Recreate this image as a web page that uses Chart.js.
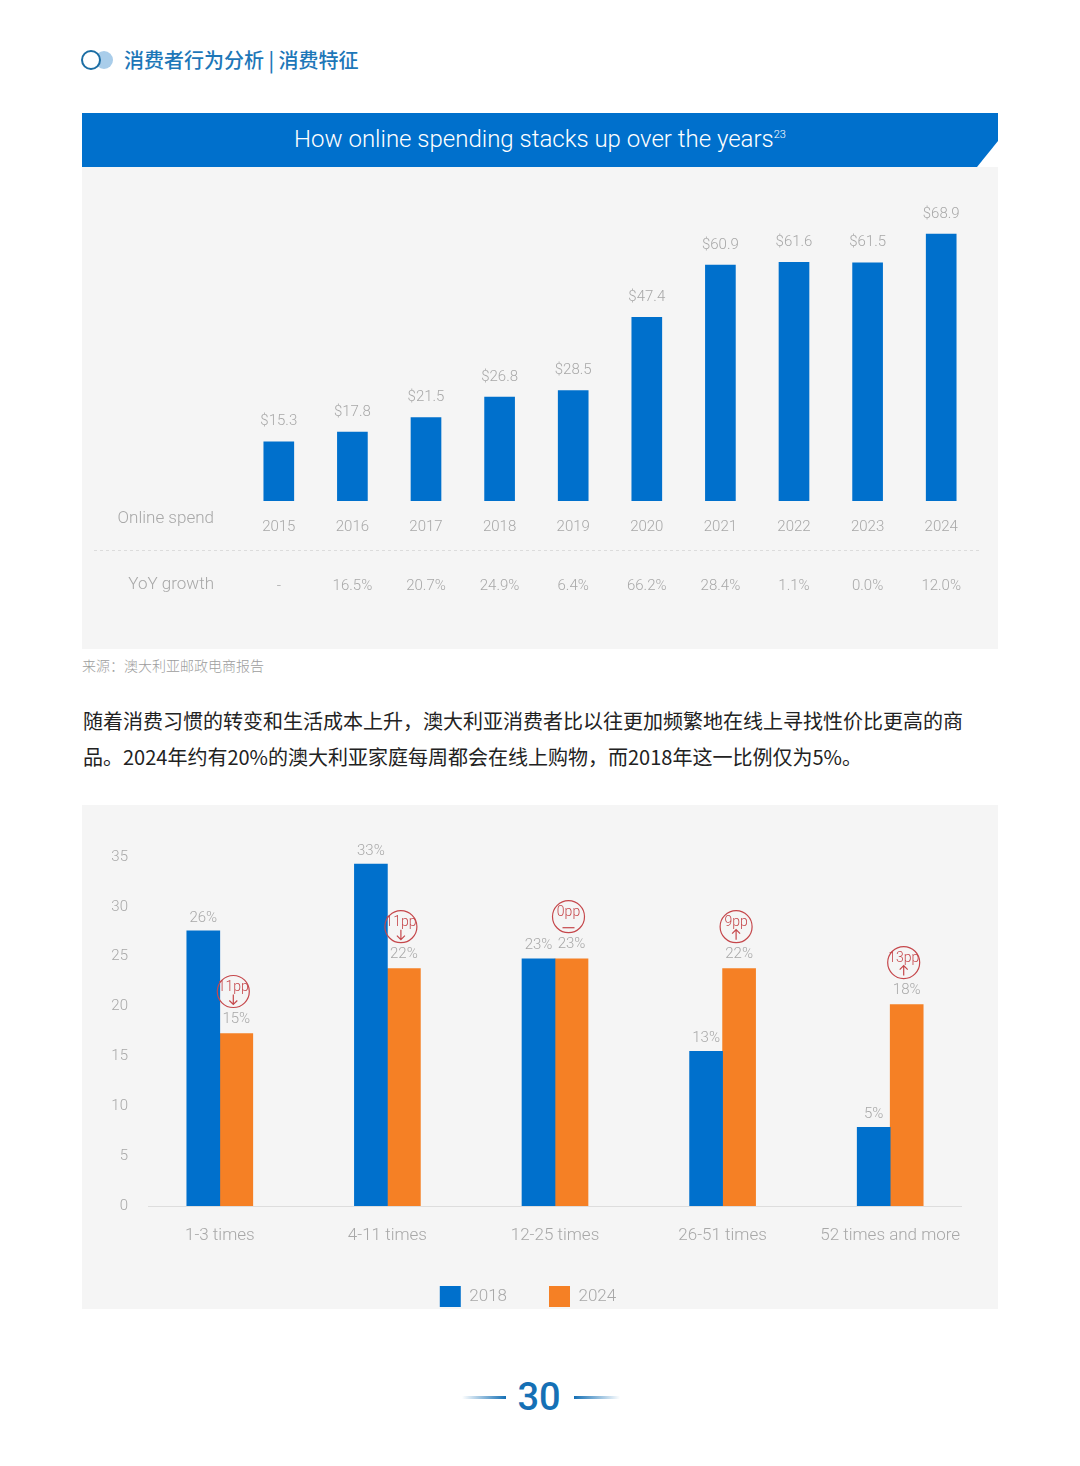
<!DOCTYPE html>
<html lang="zh">
<head>
<meta charset="utf-8">
<title>消费者行为分析 | 消费特征</title>
<script src="https://cdn.jsdelivr.net/npm/chart.js@4"></script>
<style>
  html, body { margin: 0; padding: 0; background: #fff; }
  body { position: relative; width: 1080px; height: 1466px; overflow: hidden; font-family: Roboto, "Noto Sans CJK SC", sans-serif; }
  .abs { position: absolute; white-space: nowrap; }
  .ring-back { left: 95px; top: 51px; width: 18px; height: 18px; border-radius: 50%; background: #a9cdea; }
  .ring { left: 81px; top: 50px; width: 16px; height: 16px; border: 2.5px solid #1c6ea4; border-radius: 50%; background: #fff; }
  .section { left: 124px; top: 46px; font: 500 20px/28px "Noto Sans CJK SC", sans-serif; color: #1d77b8; }
  .panel { background: #f5f5f5; left: 82px; width: 916px; }
  .band { left: 82px; top: 113px; width: 916px; height: 54px; background: #0070cc; clip-path: polygon(0 0, 100% 0, 100% 28px, 895px 100%, 0 100%); }
  .title { left: 82px; top: 113px; width: 916px; height: 52px; text-align: center; color: #fff; font: 300 24px/52px Roboto, sans-serif; }
  .title sup { font-size: 11px; line-height: 0; vertical-align: 9px; }
  .source { left: 82px; top: 655px; font: 300 14px/20px "Noto Sans CJK SC", sans-serif; color: #9d9d9d; }
  .para { left: 83px; font: 400 20px/30px "Noto Sans CJK SC", sans-serif; color: #222; }
  .pageno { left: 489px; width: 100px; top: 1372px; text-align: center; font: 500 38px/50px Roboto, sans-serif; color: #1570b5; }
  .dash { top: 1396px; height: 3px; }
  canvas { position: absolute; display: block; }
</style>
</head>
<body>
<div class="abs ring-back"></div>
<div class="abs ring"></div>
<div class="abs section">消费者行为分析 | 消费特征</div>

<div class="abs panel" style="top:167px;height:482px"></div>
<div class="abs band"></div>
<div class="abs title">How online spending stacks up over the years<sup>23</sup></div>
<canvas id="spendChart" width="916" height="482" style="left:82px;top:167px"></canvas>
<div class="abs source">来源：澳大利亚邮政电商报告</div>

<div class="abs para" style="top:706px">随着消费习惯的转变和生活成本上升，澳大利亚消费者比以往更加频繁地在线上寻找性价比更高的商</div>
<div class="abs para" style="top:742px">品。2024年约有20%的澳大利亚家庭每周都会在线上购物，而2018年这一比例仅为5%。</div>

<div class="abs panel" style="top:805px;height:504px"></div>
<canvas id="freqChart" width="916" height="512" style="left:82px;top:805px"></canvas>

<div class="abs dash" style="left:462px;width:44px;background:linear-gradient(90deg,rgba(21,112,181,0),#1570b5)"></div>
<div class="abs pageno">30</div>
<div class="abs dash" style="left:574px;width:46px;background:linear-gradient(90deg,#1570b5,rgba(21,112,181,0))"></div>

<script>
/* top chart: online spend by year */
const years = ['2015', '2016', '2017', '2018', '2019', '2020', '2021', '2022', '2023', '2024'];
const onlineSpend = [15.3, 17.8, 21.5, 26.8, 28.5, 47.4, 60.9, 61.6, 61.5, 68.9];
const yoyGrowth = ['-', '16.5%', '20.7%', '24.9%', '6.4%', '66.2%', '28.4%', '1.1%', '0.0%', '12.0%'];

/* bottom chart: bar heights are read against the printed axis, which sits
   a little off from the printed percentages, so the labels are kept apart */
const freqBands = ['1-3 times', '4-11 times', '12-25 times', '26-51 times', '52 times and more'];
const heights2018 = [27.6, 34.3, 24.8, 15.5, 7.9];
const heights2024 = [17.3, 23.8, 24.8, 23.8, 20.2];
const labels2018 = ['26%', '33%', '23%', '13%', '5%'];
const labels2024 = ['15%', '22%', '23%', '22%', '18%'];
const ppChange = ['11pp', '11pp', '0pp', '9pp', '13pp'];
const ppDirection = ['down', 'down', 'flat', 'up', 'up'];

const BLUE = '#0070cc';
const ORANGE = '#f58025';
const GREY = '#a8a8a8';
const RED = '#c5474b';
const FONT = 'Roboto, sans-serif';

Chart.defaults.font.family = FONT;
Chart.defaults.font.weight = '300';
Chart.defaults.color = GREY;
Chart.defaults.animation = false;

const text = (ctx, str, x, y, size, color, align) => {
  ctx.font = `300 ${size}px ${FONT}`;
  ctx.fillStyle = color;
  ctx.textAlign = align || 'center';
  ctx.textBaseline = 'middle';
  ctx.fillText(str, x, y);
};

const spendExtras = {
  id: 'spendExtras',
  afterDatasetsDraw(chart) {
    const { ctx } = chart;
    const xScale = chart.scales.x;
    ctx.save();
    chart.getDatasetMeta(0).data.forEach((bar, i) => {
      text(ctx, '$' + onlineSpend[i].toFixed(1), bar.x, bar.y - 20, 15, GREY);
      text(ctx, yoyGrowth[i], xScale.getPixelForValue(i), 419, 15, GREY);
    });
    text(ctx, 'Online spend', 132, 352, 17, GREY, 'right');
    text(ctx, 'YoY growth', 132, 418, 17, GREY, 'right');
    ctx.strokeStyle = '#dcdcdc';
    ctx.lineWidth = 1;
    ctx.setLineDash([3, 3]);
    ctx.beginPath();
    ctx.moveTo(12, 383.5);
    ctx.lineTo(900, 383.5);
    ctx.stroke();
    ctx.restore();
  }
};

new Chart(document.getElementById('spendChart'), {
  type: 'bar',
  data: { labels: years, datasets: [{ data: onlineSpend, backgroundColor: BLUE, barThickness: 30 }] },
  options: {
    responsive: false,
    layout: { padding: { left: 160, right: 20, top: 43.4, bottom: 0 } },
    plugins: { legend: { display: false }, tooltip: { enabled: false } },
    scales: {
      y: { display: false, min: 0, max: 75 },
      x: {
        grid: { display: false },
        border: { display: false },
        ticks: { font: { size: 15 }, color: GREY, padding: 9, maxRotation: 0 },
        afterFit(axis) { axis.height = 148; }
      }
    }
  },
  plugins: [spendExtras]
});

const freqExtras = {
  id: 'freqExtras',
  afterDatasetsDraw(chart) {
    const { ctx, chartArea } = chart;
    ctx.save();
    ctx.strokeStyle = '#dddddd';
    ctx.lineWidth = 1;
    ctx.beginPath();
    ctx.moveTo(chartArea.left + 12, chartArea.bottom + 0.5);
    ctx.lineTo(chartArea.right - 12, chartArea.bottom + 0.5);
    ctx.stroke();

    chart.getDatasetMeta(0).data.forEach((bar, i) => {
      text(ctx, labels2018[i], bar.x, bar.y - 13, 15, GREY);
    });
    chart.getDatasetMeta(1).data.forEach((bar, i) => {
      text(ctx, labels2024[i], bar.x, bar.y - 14, 15, GREY);
      drawBadge(ctx, bar.x - 3, bar.y - 42, ppChange[i], ppDirection[i]);
    });
    ctx.restore();
  }
};

function drawBadge(ctx, cx, cy, label, direction) {
  ctx.strokeStyle = RED;
  ctx.lineWidth = 1.2;
  ctx.beginPath();
  ctx.arc(cx, cy, 16, 0, Math.PI * 2);
  ctx.stroke();
  text(ctx, label, cx, cy - 4, 14, RED);
  ctx.beginPath();
  if (direction === 'flat') {
    ctx.moveTo(cx - 6, cy + 11);
    ctx.lineTo(cx + 6, cy + 11);
  } else {
    const from = direction === 'down' ? cy + 3 : cy + 13;
    const to = direction === 'down' ? cy + 13 : cy + 3;
    const wing = direction === 'down' ? -4 : 4;
    ctx.moveTo(cx, from);
    ctx.lineTo(cx, to);
    ctx.moveTo(cx - 4, to + wing);
    ctx.lineTo(cx, to);
    ctx.lineTo(cx + 4, to + wing);
  }
  ctx.stroke();
}

new Chart(document.getElementById('freqChart'), {
  type: 'bar',
  data: {
    labels: freqBands,
    datasets: [
      { label: '2018', data: heights2018, backgroundColor: BLUE, barThickness: 33, categoryPercentage: 0.6086 },
      { label: '2024', data: heights2024, backgroundColor: ORANGE, barThickness: 33, categoryPercentage: 0.6086 }
    ]
  },
  options: {
    responsive: false,
    layout: { padding: { left: 0, right: 24, top: 52, bottom: 0 } },
    plugins: {
      tooltip: { enabled: false },
      legend: {
        position: 'bottom',
        labels: { boxWidth: 21, boxHeight: 21, padding: 42, color: GREY, font: { size: 17 } }
      }
    },
    scales: {
      y: {
        min: 0,
        max: 35,
        grid: { display: false },
        border: { display: false },
        ticks: { stepSize: 5, font: { size: 15 }, color: GREY, padding: 0 },
        afterFit(axis) { axis.width = 54; }
      },
      x: {
        grid: { display: false },
        border: { display: false },
        ticks: { font: { size: 17 }, color: GREY, padding: 12, maxRotation: 0 },
        afterFit(axis) { axis.height = 38; }
      }
    }
  },
  plugins: [freqExtras]
});
</script>
</body>
</html>
